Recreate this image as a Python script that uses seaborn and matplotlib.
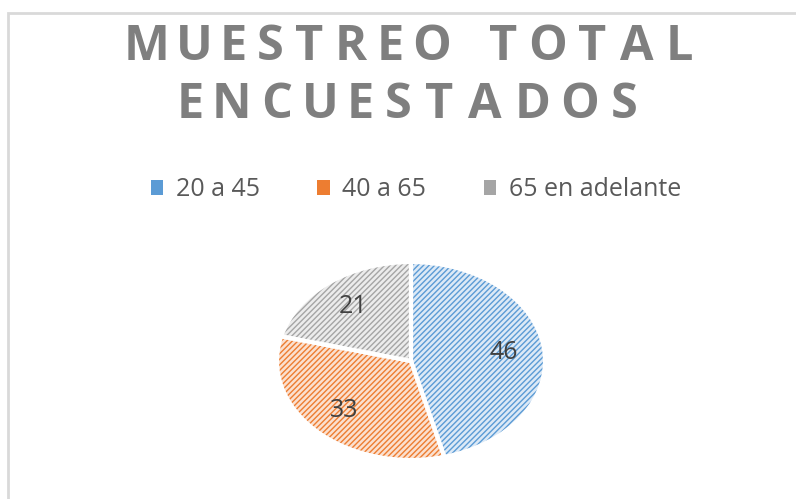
import matplotlib
matplotlib.use("Agg")
import matplotlib.pyplot as plt
import seaborn as sns
from matplotlib.patches import Rectangle, Patch
from matplotlib.font_manager import FontProperties
from matplotlib.textpath import TextPath

sns.set_theme(style="white")
plt.rcParams['font.family'] = ['Open Sans', 'DejaVu Sans']
plt.rcParams['hatch.linewidth'] = 1.0

# datos
categorias = ["20 a 45", "40 a 65", "65 en adelante"]
valores = [46, 33, 21]
colores = ["#5B9BD5", "#ED7D31", "#A5A5A5"]
relleno = ["#DCE9F6", "#FBE0CF", "#ECECEC"]
titulo = ["MUESTREO TOTAL", "ENCUESTADOS"]

W, H = 796, 499
fig = plt.figure(figsize=(W / 100, H / 100), dpi=100)
fig.patch.set_facecolor("white")

# marco del grafico
fig.add_artist(Rectangle((8 / W, -0.1), 1.2, (H - 13) / H + 0.1, transform=fig.transFigure,
                         fill=False, edgecolor="#D9D9D9", linewidth=2))


def texto_espaciado(linea, x0, x1, y, size):
    # titulo con espaciado entre letras (letra por letra)
    fp = FontProperties(family="Open Sans", weight="bold", size=size)
    px = size * 100 / 72.0
    anchos = []
    for ch in linea:
        if ch == " ":
            anchos.append(0.25 * px)
        else:
            bb = TextPath((0, 0), ch, prop=fp).get_extents()
            anchos.append(bb.width * 100 / 72.0)
    esp = ((x1 - x0) - sum(anchos)) / (len(linea) - 1)
    x = x0
    for ch, w in zip(linea, anchos):
        if ch != " ":
            fig.text((x + w / 2) / W, 1 - y / H, ch, ha="center", va="center",
                     fontproperties=fp, color="#7F7F7F")
        x += w + esp


texto_espaciado(titulo[0], 128, 690, 47, 35)
texto_espaciado(titulo[1], 180, 635, 105, 35)

# pie (elipse: radio x 134 px, radio y 99 px, centro 411,361)
cx, cy, rx, ry = 411, H - 361, 134, 99
ax = fig.add_axes([(cx - 1.1 * rx) / W, (cy - 1.1 * ry) / H, 2.2 * rx / W, 2.2 * ry / H])
wedges, textos = ax.pie(valores, colors=relleno, startangle=90, counterclock=False,
                        wedgeprops=dict(linewidth=0, hatch="//////"),
                        labels=None)
for w, c in zip(wedges, colores):
    w.set_edgecolor(c)
ax.pie(valores, colors=["none"] * 3, startangle=90, counterclock=False,
       wedgeprops=dict(linewidth=3, edgecolor="white"),
       labels=[str(v) for v in valores], labeldistance=0.7,
       textprops=dict(fontsize=18, color="#404040", ha="center", va="center"))
ax.set_aspect("auto")
ax.set_xlim(-1.1, 1.1)
ax.set_ylim(-1.1, 1.1)
ax.axis("off")

# leyenda con cuadritos rellenos
manejadores = [Patch(facecolor=c, edgecolor="none", linewidth=0) for c in colores]
fig.legend(manejadores, categorias, loc="center", bbox_to_anchor=(416 / W, 1 - 190 / H),
           ncol=3, frameon=False, fontsize=18, labelcolor="#595959",
           handlelength=0.5, handleheight=0.5, handletextpad=0.5, columnspacing=2.3)

fig.savefig("out.png", dpi=100)
